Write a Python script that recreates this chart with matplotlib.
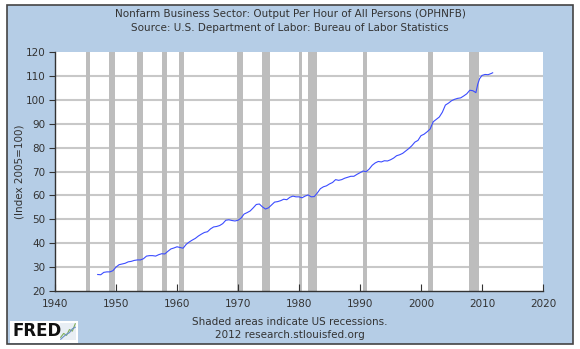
import matplotlib
matplotlib.use("Agg")
import matplotlib.pyplot as plt
from matplotlib.patches import Rectangle

# Output per hour, nonfarm business (index 2005=100)
years = [1947.0, 1947.5, 1948.0, 1948.5, 1949.0, 1949.5, 1950.0, 1950.5, 1951.0, 1951.5,
         1952.0, 1952.5, 1953.0, 1953.5, 1954.0, 1954.5, 1955.0, 1955.5, 1956.0, 1956.5,
         1957.0, 1957.5, 1958.0, 1958.5, 1959.0, 1959.5, 1960.0, 1960.5, 1961.0, 1961.5,
         1962.0, 1962.5, 1963.0, 1963.5, 1964.0, 1964.5, 1965.0, 1965.5, 1966.0, 1966.5,
         1967.0, 1967.5, 1968.0, 1968.5, 1969.0, 1969.5, 1970.0, 1970.5, 1971.0, 1971.5,
         1972.0, 1972.5, 1973.0, 1973.5, 1974.0, 1974.5, 1975.0, 1975.5, 1976.0, 1976.5,
         1977.0, 1977.5, 1978.0, 1978.5, 1979.0, 1979.5, 1980.0, 1980.5, 1981.0, 1981.5,
         1982.0, 1982.5, 1983.0, 1983.5, 1984.0, 1984.5, 1985.0, 1985.5, 1986.0, 1986.5,
         1987.0, 1987.5, 1988.0, 1988.5, 1989.0, 1989.5, 1990.0, 1990.5, 1991.0, 1991.5,
         1992.0, 1992.5, 1993.0, 1993.5, 1994.0, 1994.5, 1995.0, 1995.5, 1996.0, 1996.5,
         1997.0, 1997.5, 1998.0, 1998.5, 1999.0, 1999.5, 2000.0, 2000.5, 2001.0, 2001.5,
         2002.0, 2002.5, 2003.0, 2003.5, 2004.0, 2004.5, 2005.0, 2005.5, 2006.0, 2006.5,
         2007.0, 2007.5, 2008.0, 2008.5, 2009.0, 2009.3, 2009.6, 2010.0, 2010.5, 2011.0,
         2011.5, 2011.75]
values = [26.9, 26.8, 27.8, 28.0, 28.0, 28.5, 30.0, 31.0, 31.3, 31.6,
          32.2, 32.4, 32.8, 33.0, 33.0, 33.5, 34.6, 34.8, 34.8, 34.6,
          35.2, 35.6, 35.5, 36.6, 37.6, 38.0, 38.5, 38.2, 37.9, 39.5,
          40.5, 41.3, 42.0, 43.0, 43.8, 44.5, 44.8, 46.0, 46.8, 47.0,
          47.4, 48.2, 49.6, 49.8, 49.5, 49.3, 49.6, 50.5, 52.2, 52.8,
          53.5, 54.8, 56.2, 56.4, 55.2, 54.3, 54.8, 56.0, 57.2, 57.4,
          57.8, 58.4, 58.2, 59.2, 59.7, 59.4, 59.4, 59.0, 59.7, 60.2,
          59.4, 59.5, 61.0, 62.8, 63.6, 64.0, 64.8, 65.4, 66.6, 66.3,
          66.6, 67.2, 67.6, 68.0, 68.0, 68.8, 69.5, 70.2, 69.9, 71.0,
          72.6, 73.6, 74.2, 74.0, 74.5, 74.4, 74.9, 75.6, 76.6, 77.0,
          77.6, 78.6, 79.6, 80.8, 82.3, 83.0, 85.0, 85.6, 86.6, 87.8,
          90.8, 91.8, 92.8, 94.8, 97.8, 98.6, 99.6, 100.2, 100.6, 100.8,
          101.6, 102.5, 104.0, 103.8, 103.0, 106.5, 108.8, 110.2, 110.6, 110.5,
          111.0, 111.3]

# US recessions (start, end)
rec_start = [1945.1, 1948.9, 1953.5, 1957.6, 1960.3, 1969.9, 1973.9, 1980.0, 1981.5, 1990.5, 2001.2, 2007.9]
rec_end = [1945.8, 1949.8, 1954.4, 1958.3, 1961.1, 1970.9, 1975.2, 1980.5, 1982.9, 1991.2, 2001.9, 2009.5]

bg = "#b5cde6"
fig = plt.figure(figsize=(5.8, 3.49), dpi=100)
fig.patch.set_facecolor("white")
fig.patches.append(Rectangle((7 / 580, 5 / 349), 566 / 580, 339 / 349, transform=fig.transFigure,
                             facecolor=bg, edgecolor="#444444", linewidth=1.2, zorder=-10))

ax = fig.add_axes([55 / 580, 1 - 291 / 349, 488 / 580, 239 / 349])
ax.set_facecolor("white")

for s, e in zip(rec_start, rec_end):
    ax.axvspan(s, e, color="#bdbdbd", linewidth=0, zorder=1)

ax.set_yticks(range(20, 121, 10))
for yv in range(30, 120, 10):
    ax.axhline(yv, color="#c8c8c8", linewidth=1.5, zorder=0.5)

ax.plot(years, values, color="#3b4cff", linewidth=0.8, zorder=3)

ax.set_xlim(1940, 2020)
ax.set_ylim(20, 120)
ax.set_xticks(range(1940, 2021, 10))
ax.tick_params(axis="x", direction="in", length=5, labelsize=7.5, colors="#333333", pad=6)
ax.tick_params(axis="y", direction="out", length=4, labelsize=7.5, colors="#333333", pad=3)
for side in ["top", "right"]:
    ax.spines[side].set_visible(False)
for side in ["left", "bottom"]:
    ax.spines[side].set_color("#333333")
    ax.spines[side].set_linewidth(1)

fig.text(20 / 580, 1 - 172 / 349, "(Index 2005=100)", rotation=90, ha="center", va="center",
         fontsize=7.5, color="#333333")
fig.text(0.5, 1 - 14 / 349, "Nonfarm Business Sector: Output Per Hour of All Persons (OPHNFB)",
         ha="center", va="center", fontsize=7.5, color="#333333")
fig.text(0.5, 1 - 28 / 349, "Source: U.S. Department of Labor: Bureau of Labor Statistics",
         ha="center", va="center", fontsize=7.5, color="#333333")
fig.text(0.5, 1 - 322 / 349, "Shaded areas indicate US recessions.",
         ha="center", va="center", fontsize=7.5, color="#333333")
fig.text(0.5, 1 - 335 / 349, "2012 research.stlouisfed.org",
         ha="center", va="center", fontsize=7.5, color="#333333")

# FRED logo
fig.patches.append(Rectangle((10 / 580, 6 / 349), 68 / 580, 22 / 349, transform=fig.transFigure,
                             facecolor="white", edgecolor="none", zorder=-5))
fig.text(12 / 580, 1 - 331 / 349, "FRED", fontsize=12, fontweight="bold", color="#111111",
         ha="left", va="center")
icon = fig.add_axes([60 / 580, 1 - 340 / 349, 16 / 580, 17 / 349])
icon.set_facecolor("#e8eef4")
icon.plot([0, 1, 2, 3, 4, 5], [1, 2, 1.5, 3, 2.6, 4.5], color="#7fae5a", linewidth=0.8)
icon.plot([0, 1, 2, 3, 4, 5], [0.5, 1.2, 1.8, 2.2, 3.2, 3.6], color="#6a8fc7", linewidth=0.8)
icon.set_xticks([])
icon.set_yticks([])
for sp in icon.spines.values():
    sp.set_visible(False)

fig.savefig("out.png", dpi=100, facecolor=fig.get_facecolor())
